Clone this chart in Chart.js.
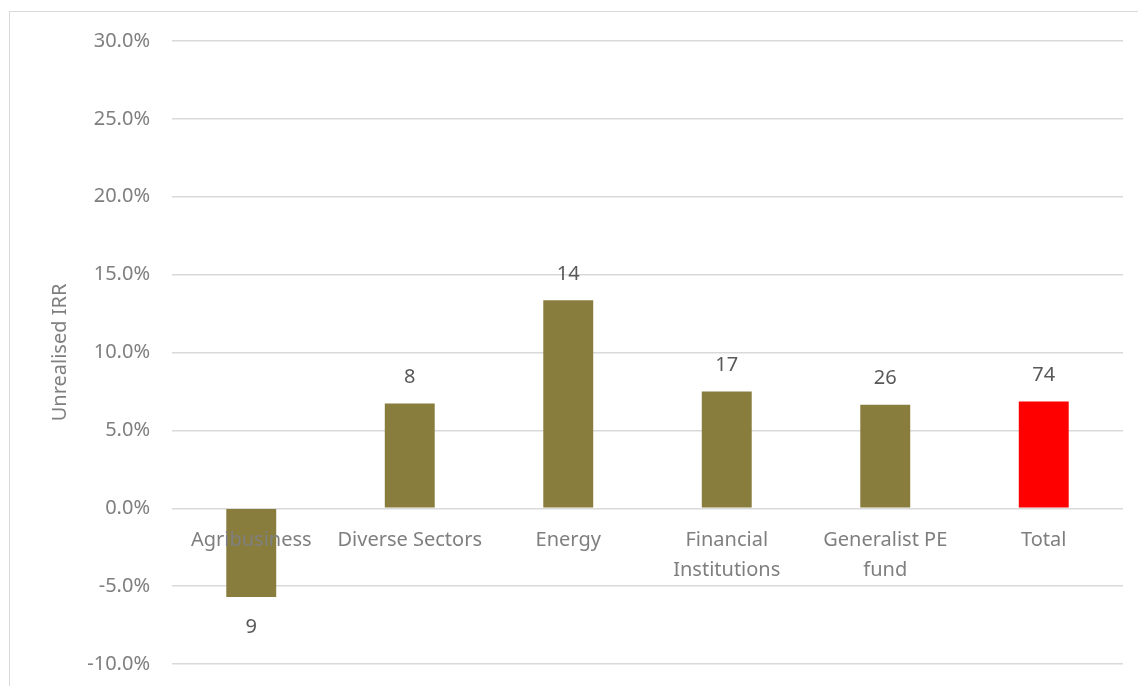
<!DOCTYPE html>
<html>
<head>
<meta charset="utf-8">
<script src="https://cdn.jsdelivr.net/npm/chart.js@4.4.1/dist/chart.umd.min.js"></script>
<style>
  html, body { margin: 0; padding: 0; background: #fff; overflow: hidden; }
  #frame { position: absolute; left: 9px; top: 11px; width: 1150px; height: 700px; border: 1px solid #d9d9d9; }
  #wrap { position: absolute; left: 0; top: 0; width: 1138px; height: 686px; }
</style>
</head>
<body>
<div id="frame"></div>
<div id="wrap"><canvas id="my_chart" width="1138" height="686"></canvas></div>
<script>
// categories, IRR values and deal counts
var categories = ['Agribusiness', 'Diverse Sectors', 'Energy', ['Financial', 'Institutions'], ['Generalist PE', 'fund'], 'Total']
var irr_values = [-0.057, 0.0673, 0.1335, 0.075, 0.0665, 0.0686]
var deal_counts = [9, 8, 14, 17, 26, 74]
var bar_colors = ['#887D3D', '#887D3D', '#887D3D', '#887D3D', '#887D3D', '#FF0000']

const FONT = "'Noto Sans', sans-serif"

// draws the count above (or below) each bar
const countLabels = {
  id: 'countLabels',
  afterDatasetsDraw(chart) {
    const ctx = chart.ctx
    const meta = chart.getDatasetMeta(0)
    ctx.save()
    ctx.font = '20px ' + FONT
    ctx.fillStyle = '#595959'
    ctx.textAlign = 'center'
    ctx.textBaseline = 'middle'
    meta.data.forEach((bar, i) => {
      const neg = irr_values[i] < 0
      const y = neg ? bar.y + 30 : bar.y - 26
      ctx.fillText(String(deal_counts[i]), bar.x, y)
    })
    ctx.restore()
  }
}

ctx = document.getElementById('my_chart').getContext('2d')
my_chart = new Chart(ctx, {
  type: 'bar',
  data: {
    labels: categories,
    datasets: [{
      label: 'Unrealised IRR',
      data: irr_values,
      backgroundColor: bar_colors,
      borderWidth: 0,
      barPercentage: 0.315,
      categoryPercentage: 1
    }]
  },
  options: {
    responsive: false,
    animation: false,
    layout: { padding: { left: 0, right: 15, top: 41, bottom: 22 } },
    plugins: {
      legend: { display: false },
      tooltip: { enabled: false }
    },
    scales: {
      x: {
        // category labels sit on the zero line and over the bars, like the original
        position: { y: 0 },
        grid: { display: false, drawTicks: false },
        border: { display: false },
        ticks: {
          z: 1,
          color: '#7f7f7f',
          font: { family: FONT, size: 20, lineHeight: 1.5 },
          padding: 17,
          maxRotation: 0,
          autoSkip: false
        },
        afterFit: (scale) => { scale.height = 0 }
      },
      y: {
        min: -0.10,
        max: 0.30,
        grid: { color: '#d9d9d9', lineWidth: 1.5, drawTicks: true, tickLength: 22, tickColor: 'rgba(0,0,0,0)' },
        border: { display: false },
        ticks: {
          stepSize: 0.05,
          color: '#7f7f7f',
          font: { family: FONT, size: 20 },
          padding: 0,
          callback: (v) => (v * 100).toFixed(1) + '%'
        },
        title: {
          display: true,
          text: 'Unrealised IRR',
          color: '#7f7f7f',
          font: { family: FONT, size: 20 },
          padding: { top: 48, bottom: 0 }
        },
        afterFit: (scale) => { scale.width = 172 }
      }
    }
  },
  plugins: [countLabels]
})
</script>
</body>
</html>
